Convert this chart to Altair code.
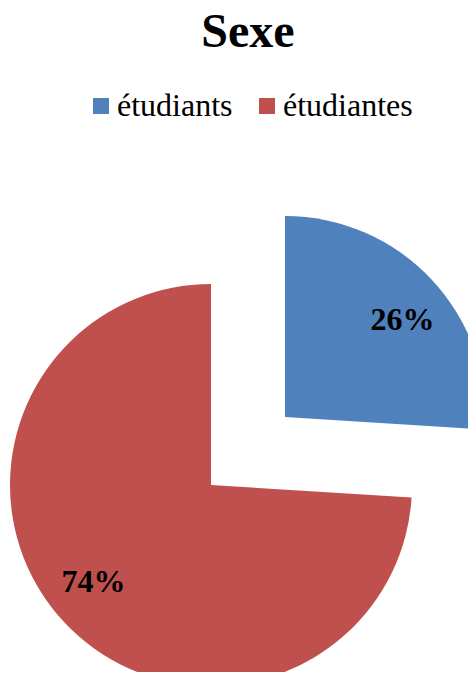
import altair as alt
import pandas as pd

categories = ["étudiants", "étudiantes"]
values = [26, 74]
labels = ["26%", "74%"]
colors = ["#4F81BD", "#C0504D"]

df = pd.DataFrame({
    "category": categories,
    "value": values,
    "label": labels,
    "order": list(range(len(categories))),
})

total = sum(values)
theta_scale = alt.Scale(domain=[0, total])
color_scale = alt.Scale(domain=categories, range=colors)

SERIF = "Liberation Serif"

# slice centers (exploded pie): blue pulled out to upper-right
centers = {"étudiants": (277, 349), "étudiantes": (203, 417)}
R = 201

base = (
    alt.Chart(df)
    .transform_window(v1="sum(value)", sort=[alt.SortField("order")], frame=[None, 0])
    .transform_calculate(v0="datum.v1 - datum.value")
    .transform_calculate(mid=f"(datum.v0 + datum.v1) / 2 + {total} * 0.0105")
)

layers = []
for i, cat in enumerate(categories):
    cx, cy = centers[cat]
    sub = base.transform_filter(alt.datum.category == cat)
    arc = sub.mark_arc(outerRadius=R, x=cx, y=cy).encode(
        theta=alt.Theta("v0:Q", scale=theta_scale),
        theta2="v1:Q",
        color=alt.Color(
            "category:N",
            scale=color_scale,
            legend=alt.Legend(
                title=None,
                orient="none",
                legendX=77,
                legendY=22,
                direction="horizontal",
                symbolType="square",
                symbolSize=256,
                symbolStrokeWidth=0,
                labelFont=SERIF,
                labelFontSize=32,
                labelColor="black",
                labelOffset=0,
                columnPadding=18,
            ),
        ),
    )
    txt = sub.mark_text(
        radius=152, x=cx, y=cy, font=SERIF, fontSize=32,
        fontWeight="bold", color="black",
    ).encode(
        theta=alt.Theta("mid:Q", scale=theta_scale),
        text="label:N",
    )
    layers += [arc, txt]

chart = (
    alt.layer(*layers)
    .properties(
        width=460,
        height=604,
        padding={"left": 0, "top": 60, "right": 0, "bottom": 0},
        autosize=alt.AutoSizeParams(type="none"),
        title=alt.Title(
            "Sexe", font=SERIF, fontSize=48, fontWeight="bold",
            anchor="middle", color="black", dx=10, offset=11,
        ),
    )
    .configure_view(stroke=None)
)

chart.save("out.html", embed_options={"renderer": "svg", "actions": False})
